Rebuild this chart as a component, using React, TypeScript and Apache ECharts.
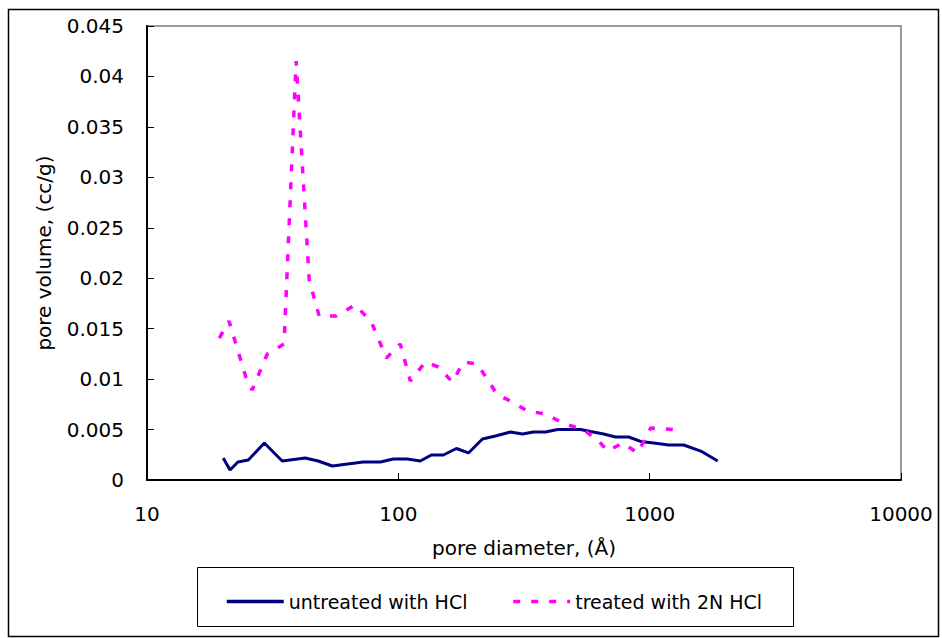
import React, { useEffect, useRef } from "react";
import * as echarts from "echarts";

const FONT = "DejaVu Sans, Arial, sans-serif";

const xTickValues = [10, 100, 1000, 10000];
const yTickLabels = ["0", "0.005", "0.01", "0.015", "0.02", "0.025", "0.03", "0.035", "0.04", "0.045"];

const seriesNames = ["untreated with HCl", "treated with 2N HCl"];

const diameterUntreated = [
  20.1, 21.4, 23.0, 25.3, 29.3, 34.5, 42.6, 48.0, 54.6, 72.5, 84.8, 95.5, 108.6, 122.3,
  135.3, 151.1, 170.2, 190.1, 216.1, 243.5, 279.4, 311.9, 345.0, 385.2, 430.0, 531.0,
  582.1, 655.6, 731.9, 824.7, 920.6, 1037, 1191, 1366, 1597, 1866,
];
const volumeUntreated = [
  0.00218, 0.00099, 0.00178, 0.00198, 0.00367, 0.00188, 0.00218, 0.00188, 0.00139, 0.00178,
  0.00178, 0.00208, 0.00208, 0.00188, 0.00248, 0.00248, 0.00312, 0.00268, 0.00406, 0.00436,
  0.00476, 0.00456, 0.00476, 0.00476, 0.00501, 0.00501, 0.00481, 0.00456, 0.00426, 0.00426,
  0.00382, 0.00367, 0.00347, 0.00347, 0.00287, 0.00188,
];

const diameterTreated = [
  19.4, 21.2, 24.8, 26.2, 30.1, 35.1, 39.2, 44.2, 48.4, 56.6, 67.4, 78.1, 89.6, 101.8,
  111.6, 128.1, 144.3, 164.1, 181.6, 206.4, 248.0, 279.4, 326.6, 385.2, 458.5, 541.0,
  626.4, 680.4, 780.5, 896.0, 1009, 1329,
];
const volumeTreated = [
  0.01407, 0.01576, 0.01011, 0.00892, 0.01249, 0.01348, 0.04153, 0.01982, 0.01626, 0.01626,
  0.01735, 0.01566, 0.01209, 0.01348, 0.00981, 0.0117, 0.0112, 0.00971, 0.0117, 0.0115,
  0.00843, 0.00783, 0.00684, 0.00654, 0.00555, 0.00506, 0.00387, 0.00287, 0.00367, 0.00268,
  0.00515, 0.00496,
];

const colors = ["#000080", "#FF00FF"];

function pairs(xs: number[], ys: number[]) {
  return xs.map((x, i) => [x, ys[i]]);
}

export default function App() {
  const ref = useRef<HTMLDivElement>(null);
  useEffect(() => {
    if (!ref.current) return;
    const chart = echarts.init(ref.current, null, { renderer: "svg" });
    chart.setOption({
      animation: false,
      backgroundColor: "#ffffff",
      textStyle: { fontFamily: FONT },
      grid: {
        left: 147,
        right: 41,
        top: 26,
        bottom: 158,
        show: true,
        borderColor: "#9a9a9a",
        borderWidth: 2,
        backgroundColor: "transparent",
      },
      legend: {
        left: 220,
        top: 587,
        itemWidth: 57,
        itemHeight: 20,
        itemGap: 44,
        itemStyle: { opacity: 0 },
        lineStyle: { width: 3.5 },
        textStyle: { fontFamily: FONT, fontSize: 19, color: "#000" },
        data: seriesNames,
      },
      graphic: [
        {
          type: "rect",
          shape: { x: 8.5, y: 9.5, width: 930, height: 627 },
          style: { fill: "none", stroke: "#000", lineWidth: 1.5 },
          silent: true,
          z: -10,
        },
        {
          type: "rect",
          shape: { x: 197.5, y: 567.5, width: 596, height: 59 },
          style: { fill: "none", stroke: "#000", lineWidth: 1 },
          silent: true,
        },
      ],
      xAxis: {
        type: "log",
        logBase: 10,
        min: xTickValues[0],
        max: xTickValues[xTickValues.length - 1],
        name: "pore diameter, (Å)",
        nameLocation: "middle",
        nameGap: 58,
        nameTextStyle: { fontFamily: FONT, fontSize: 20, color: "#000" },
        axisLine: { show: true, lineStyle: { color: "#000", width: 2 } },
        axisTick: { show: true, inside: true, length: 7, lineStyle: { color: "#000", width: 1 } },
        minorTick: { show: false },
        splitLine: { show: false },
        axisLabel: {
          margin: 24,
          fontFamily: FONT,
          fontSize: 20,
          color: "#000",
          showMaxLabel: true,
          showMinLabel: true,
          formatter: (v: number) => String(Math.round(v)),
        },
      },
      yAxis: {
        type: "value",
        min: 0,
        max: 0.045,
        interval: 0.005,
        name: "pore volume, (cc/g)",
        nameLocation: "middle",
        nameRotate: 90,
        nameGap: 93,
        nameTextStyle: { fontFamily: FONT, fontSize: 20, color: "#000" },
        axisLine: { show: true, lineStyle: { color: "#000", width: 2 } },
        axisTick: { show: true, inside: true, length: 7, lineStyle: { color: "#000", width: 1 } },
        splitLine: { show: false },
        axisLabel: {
          margin: 23,
          fontFamily: FONT,
          fontSize: 20,
          color: "#000",
          formatter: (v: number) => yTickLabels[Math.round(v / 0.005)] ?? String(v),
        },
      },
      series: [
        {
          name: seriesNames[0],
          type: "line",
          data: pairs(diameterUntreated, volumeUntreated),
          symbol: "none",
          showSymbol: false,
          color: colors[0],
          lineStyle: { color: colors[0], width: 3 },
        },
        {
          name: seriesNames[1],
          type: "line",
          data: pairs(diameterTreated, volumeTreated),
          symbol: "none",
          showSymbol: false,
          color: colors[1],
          lineStyle: { color: colors[1], width: 3.5, type: [7, 11], cap: "butt" },
        },
      ],
    });
    return () => chart.dispose();
  }, []);
  return (
    <div
      ref={ref}
      style={{ position: "fixed", left: 0, top: 0, width: 942, height: 638 }}
    />
  );
}
